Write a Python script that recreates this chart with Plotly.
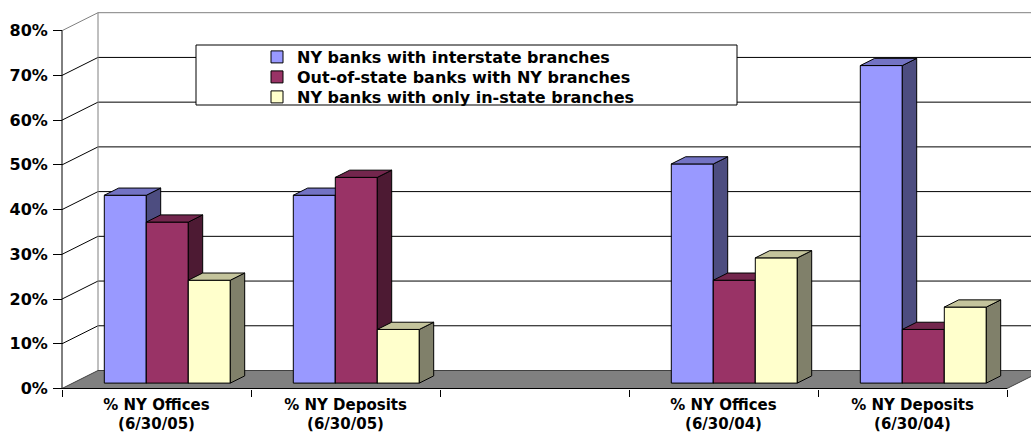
import plotly.graph_objects as go

# ---- data -------------------------------------------------------------
categories = [
    "% NY Offices<br>(6/30/05)",
    "% NY Deposits<br>(6/30/05)",
    "",
    "% NY Offices<br>(6/30/04)",
    "% NY Deposits<br>(6/30/04)",
]
series_names = [
    "NY banks with interstate branches",
    "Out-of-state banks with NY branches",
    "NY banks with only in-state branches",
]
ny_interstate = [42, 42, None, 49, 71]
out_of_state = [36, 46, None, 23, 12]
ny_in_state_only = [23, 12, None, 28, 17]
y_tick_values = [0, 10, 20, 30, 40, 50, 60, 70, 80]
y_tick_labels = ["0%", "10%", "20%", "30%", "40%", "50%", "60%", "70%", "80%"]

series_values = [ny_interstate, out_of_state, ny_in_state_only]
front_colors = ["#9999FF", "#993366", "#FFFFCC"]
top_colors = ["#7373C4", "#73264D", "#C4C49C"]
side_colors = ["#4D4D80", "#4D1A33", "#80806A"]

# ---- page / projection geometry ----------------------------------------
W, H = 1031, 432
ORIGIN_X_PX, CAT_PX = 62, 189          # front plane: left edge, px per category
ORIGIN_Y_PX, PCT_PX = 388.5, 4.4725    # front plane: 0% baseline, px per 1%
n_cat = len(categories)
x_range = [-0.5 - ORIGIN_X_PX / CAT_PX, -0.5 + (W - ORIGIN_X_PX) / CAT_PX]
y_range = [-(H - ORIGIN_Y_PX) / PCT_PX, ORIGIN_Y_PX / PCT_PX]

DEPTH_X = 36 / CAT_PX      # oblique depth offset, in category units
DEPTH_Y = 18 / PCT_PX      # oblique depth offset, in percent units
BAR_W = 42 / CAT_PX
F0, F1 = 0.3, 0.7          # bar front / back position along the depth
Y_MAX = y_tick_values[-1]
X_LEFT, X_RIGHT = -0.5, n_cat - 0.5

FONT = dict(family="DejaVu Sans", size=16, color="black", weight="bold")
CAT_FONT = dict(family="DejaVu Sans", size=15, color="black", weight="bold")


def polygon(xs, ys, fill, line_color="black", width=1):
    return go.Scatter(
        x=list(xs) + [xs[0]], y=list(ys) + [ys[0]],
        mode="lines", fill="toself", fillcolor=fill,
        line=dict(color=line_color, width=width),
        hoverinfo="skip", showlegend=False,
    )


def polyline(xs, ys, color, width=1):
    return go.Scatter(
        x=xs, y=ys, mode="lines", line=dict(color=color, width=width),
        hoverinfo="skip", showlegend=False, connectgaps=False,
    )


fig = go.Figure()

# walls
fig.add_trace(polygon([X_LEFT, X_LEFT + DEPTH_X, X_LEFT + DEPTH_X, X_LEFT],
                      [0, DEPTH_Y, Y_MAX + DEPTH_Y, Y_MAX], "white", "white", 0))
fig.add_trace(polygon([X_LEFT + DEPTH_X, X_RIGHT + DEPTH_X, X_RIGHT + DEPTH_X, X_LEFT + DEPTH_X],
                      [DEPTH_Y, DEPTH_Y, Y_MAX + DEPTH_Y, Y_MAX + DEPTH_Y], "white", "white", 0))

# gridlines across side wall and back wall
gx, gy = [], []
for v in y_tick_values[1:-1]:
    gx += [X_LEFT, X_LEFT + DEPTH_X, X_RIGHT + DEPTH_X, None]
    gy += [v, v + DEPTH_Y, v + DEPTH_Y, None]
fig.add_trace(polyline(gx, gy, "black"))

# wall edges
fig.add_trace(polyline([X_LEFT, X_LEFT + DEPTH_X, X_RIGHT + DEPTH_X],
                       [Y_MAX, Y_MAX + DEPTH_Y, Y_MAX + DEPTH_Y], "#808080"))
fig.add_trace(polyline([X_LEFT + DEPTH_X, X_LEFT + DEPTH_X],
                       [DEPTH_Y, Y_MAX + DEPTH_Y], "#808080"))

# floor
fig.add_trace(polygon([X_LEFT, X_RIGHT, X_RIGHT + DEPTH_X, X_LEFT + DEPTH_X],
                      [0, 0, DEPTH_Y, DEPTH_Y], "#808080", "#404040", 1))

# bars: front, side and top faces, painted left to right
dx, dy = (F1 - F0) * DEPTH_X, (F1 - F0) * DEPTH_Y
n_series = len(series_values)
for c in range(n_cat):
    for s in range(n_series):
        v = series_values[s][c]
        if v is None:
            continue
        xl = c - n_series * BAR_W / 2 + s * BAR_W + F0 * DEPTH_X
        xr = xl + BAR_W
        b = F0 * DEPTH_Y
        t = v + b
        fig.add_trace(polygon([xl, xr, xr, xl], [b, b, t, t], front_colors[s]))
        fig.add_trace(polygon([xr, xr + dx, xr + dx, xr], [b, b + dy, t + dy, t], side_colors[s]))
        fig.add_trace(polygon([xl, xr, xr + dx, xl + dx], [t, t, t + dy, t + dy], top_colors[s]))

# front axis lines
fig.add_trace(polyline([X_LEFT, X_LEFT], [0, Y_MAX], "black"))
fig.add_trace(polyline([X_LEFT, X_RIGHT], [0, 0], "black"))

# legend entries, one legend row each so the rows sit on a fixed pitch
legend_keys = ["legend", "legend2", "legend3"]
for name, col, key in zip(series_names, front_colors, legend_keys):
    fig.add_trace(go.Bar(x=[None], y=[None], name=name, legend=key,
                         marker=dict(color=col, line=dict(color="black", width=1))))

LEGEND_ROW_Y = [57, 77, 97]
legend_layouts = {
    key: dict(
        x=257 / W, y=1 - row_y / H, xanchor="left", yanchor="middle",
        bgcolor="rgba(0,0,0,0)", borderwidth=0, font=FONT,
    )
    for key, row_y in zip(legend_keys, LEGEND_ROW_Y)
}

fig.update_layout(
    width=W, height=H,
    margin=dict(l=0, r=0, t=0, b=0, autoexpand=False),
    paper_bgcolor="white", plot_bgcolor="white",
    font=FONT,
    hovermode=False,
    xaxis=dict(
        range=x_range, domain=[0, 1], anchor="free", automargin=False,
        position=(H - ORIGIN_Y_PX) / H,
        showgrid=False, zeroline=False, showline=False,
        tickmode="array", tickvals=list(range(n_cat)), ticktext=categories,
        tickfont=CAT_FONT, ticks="", ticklabelstandoff=5,
        minor=dict(tickmode="array",
                   tickvals=[i - 0.5 for i in range(n_cat + 1)],
                   ticks="outside", ticklen=7, tickcolor="black", tickwidth=1),
    ),
    yaxis=dict(
        range=y_range, domain=[0, 1], anchor="free", automargin=False,
        position=ORIGIN_X_PX / W,
        showgrid=False, zeroline=False, showline=False,
        tickmode="array", tickvals=y_tick_values, ticktext=y_tick_labels,
        ticks="outside", ticklen=9, tickcolor="black", tickwidth=1,
        ticklabelstandoff=2,
    ),
    shapes=[dict(
        type="rect", xref="paper", yref="paper", layer="above",
        x0=196 / W, x1=737 / W, y0=1 - 105 / H, y1=1 - 45 / H,
        fillcolor="white", line=dict(color="black", width=1),
    )],
    **legend_layouts,
)

fig.write_html("out.html")
